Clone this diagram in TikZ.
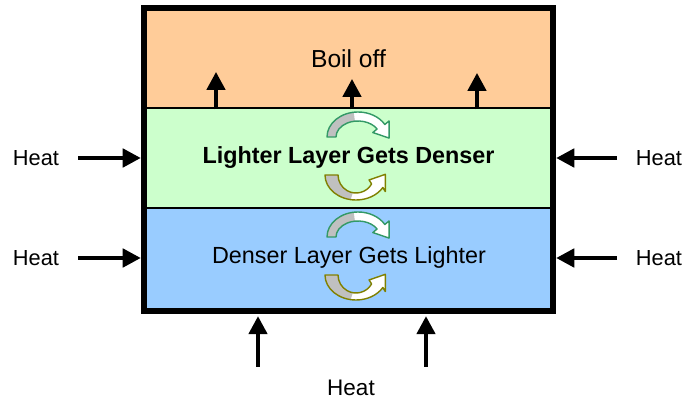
\documentclass[tikz,border=0pt]{standalone}
\usepackage{fontspec}
\setmainfont{Liberation Sans}
\usepackage{tikz}
\usetikzlibrary{arrows.meta, calc}
\definecolor{boilorange}{RGB}{255,204,153}
\definecolor{upgreen}{RGB}{204,255,204}
\definecolor{lowblue}{RGB}{153,204,255}
\definecolor{curlgreen}{RGB}{51,153,102}
\definecolor{curlolive}{RGB}{128,128,0}
\definecolor{curlgray}{RGB}{192,192,192}

\begin{document}
\begin{tikzpicture}[x=0.025cm, y=-0.025cm,
  layer/.style={
    rectangle, draw=black, line width=2pt,
    minimum width=10.175cm, inner sep=0pt,
  },
  layertext/.style={font=\fontsize{16.6}{20}\selectfont},
  heatlabel/.style={font=\fontsize{15.5}{18}\selectfont},
  heatarrow/.style={
    -{Triangle[length=0.45cm, width=0.46cm]}, line width=2.6pt,
  },
  curlover/.pic={
    \fill[white] (-31,0) arc[start angle=180, end angle=330, x radius=31, y radius=25]
      -- (31.05,-16.05) -- (31.07,1.09) -- (14.85,-4.45) -- (19.05,-8)
      arc[start angle=330, end angle=180, x radius=22, y radius=16] -- cycle;
    \fill[curlgray] (-31,0) arc[start angle=180, end angle=262, x radius=31, y radius=25]
      -- ({22*cos(262)},{16*sin(262)})
      arc[start angle=262, end angle=180, x radius=22, y radius=16] -- cycle;
    \draw[curlgreen, line width=1pt, line join=round] (-31,0)
      arc[start angle=180, end angle=330, x radius=31, y radius=25]
      -- (31.05,-16.05) -- (31.07,1.09) -- (14.85,-4.45) -- (19.05,-8)
      arc[start angle=330, end angle=180, x radius=22, y radius=16] -- cycle;
  },
  curlunder/.pic={
    \fill[white] (-31,0) arc[start angle=180, end angle=30, x radius=31, y radius=25]
      -- (29.3,16.55) -- (29.3,-0.65) -- (13.1,4.95) -- (15.6,9)
      arc[start angle=30, end angle=180, x radius=18, y radius=18] -- cycle;
    \fill[curlgray] (-31,0) arc[start angle=180, end angle=100, x radius=31, y radius=25]
      -- ({18*cos(100)},{18*sin(100)})
      arc[start angle=100, end angle=180, x radius=18, y radius=18] -- cycle;
    \draw[curlolive, line width=1pt, line join=round] (-31,0)
      arc[start angle=180, end angle=30, x radius=31, y radius=25]
      -- (29.3,16.55) -- (29.3,-0.65) -- (13.1,4.95) -- (15.6,9)
      arc[start angle=30, end angle=180, x radius=18, y radius=18] -- cycle;
  },
]
\useasboundingbox (0,0) rectangle (686,405);

% --- Layers ---
\node[layer, fill=boilorange, minimum height=2.475cm,
      font=\fontsize{17.5}{21}\selectfont] (boil) at (348.5,58.5) {Boil off};
\node[layer, fill=upgreen, minimum height=2.5cm,
      font=\fontsize{16.6}{20}\selectfont\bfseries] (upper) at (348.5,158) {Lighter Layer Gets Denser};
\node[layer, fill=lowblue, minimum height=2.55cm] (lower) at (348.5,259) {};
\node[layertext] (lowertext) at (349,257) {Denser Layer Gets Lighter};

% --- Mixing curls ---
\pic at (358,137) {curlover};
\pic at (356,175) {curlunder};
\pic at (358,237) {curlover};
\pic at (356,275) {curlunder};

% --- Outer vessel ---
\draw[line width=4.25pt] (boil.north west) rectangle (lower.south east);

% --- Boil off arrows ---
\coordinate (v1) at (216,72);
\coordinate (v2) at (352,79);
\coordinate (v3) at (477,73);
\foreach \v in {v1,v2,v3}
  \draw[heatarrow] (\v |- boil.south) -- (\v);

% --- Heat from the sides ---
\node[heatlabel] (hL1) at (36,158) {Heat};
\node[heatlabel] (hL2) at (36,258) {Heat};
\node[heatlabel] (hR1) at (659,158) {Heat};
\node[heatlabel] (hR2) at (659,258) {Heat};
\coordinate (aL1) at (78,158);
\coordinate (aL2) at (78,258);
\coordinate (aR1) at (617,158);
\coordinate (aR2) at (617,258);
\draw[heatarrow, shorten >=0.07cm] (aL1) -- (aL1 -| upper.west);
\draw[heatarrow, shorten >=0.07cm] (aL2) -- (aL2 -| lower.west);
\draw[heatarrow, shorten >=0.07cm] (aR1) -- (aR1 -| upper.east);
\draw[heatarrow, shorten >=0.07cm] (aR2) -- (aR2 -| lower.east);

% --- Heat from below ---
\node[heatlabel, font=\fontsize{16}{19}\selectfont] (hB) at (351,388) {Heat};
\coordinate (aB1) at (258,367);
\coordinate (aB2) at (426,367);
\draw[heatarrow, shorten >=0.12cm] (aB1) -- (aB1 |- lower.south);
\draw[heatarrow, shorten >=0.12cm] (aB2) -- (aB2 |- lower.south);

\end{tikzpicture}
\end{document}
